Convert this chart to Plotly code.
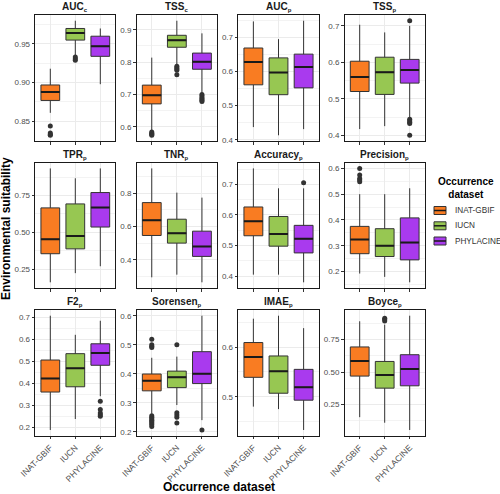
import plotly.graph_objects as go

datasets = ["INAT-GBIF", "IUCN", "PHYLACINE"]
colors = ["#F97C22", "#97C752", "#A93AEE"]

metric_names = ["AUC", "TSS", "AUC", "TSS", "TPR", "TNR", "Accuracy", "Precision",
                "F2", "Sorensen", "IMAE", "Boyce"]
metric_subs = ["c", "c", "p", "p", "p", "p", "p", "p", "p", "p", "p", "p"]

# box statistics per metric: order INAT-GBIF, IUCN, PHYLACINE
lower = [
    [0.861, 0.935, 0.898],   # AUC_c
    [0.588, 0.793, 0.705],   # TSS_c
    [0.437, 0.413, 0.431],   # AUC_p
    [0.417, 0.425, 0.447],   # TSS_p
    [0.161, 0.223, 0.270],   # TPR_p
    [0.294, 0.310, 0.264],   # TNR_p
    [0.405, 0.405, 0.380],   # Accuracy_p
    [0.192, 0.179, 0.158],   # Precision_p
    [0.187, 0.237, 0.341],   # F2_p
    [0.262, 0.292, 0.240],   # Sorensen_p
    [0.480, 0.475, 0.433],   # IMAE_p
    [0.152, 0.109, 0.053],   # Boyce_p
]
q1 = [
    [0.877, 0.955, 0.934],
    [0.671, 0.846, 0.778],
    [0.561, 0.532, 0.552],
    [0.520, 0.512, 0.543],
    [0.355, 0.388, 0.536],
    [0.546, 0.500, 0.420],
    [0.532, 0.498, 0.476],
    [0.269, 0.258, 0.245],
    [0.360, 0.384, 0.482],
    [0.341, 0.352, 0.366],
    [0.539, 0.507, 0.493],
    [0.469, 0.376, 0.394],
]
median = [
    [0.888, 0.964, 0.947],
    [0.698, 0.868, 0.801],
    [0.628, 0.597, 0.613],
    [0.560, 0.573, 0.579],
    [0.453, 0.475, 0.668],
    [0.638, 0.560, 0.480],
    [0.579, 0.538, 0.522],
    [0.324, 0.300, 0.312],
    [0.422, 0.468, 0.538],
    [0.376, 0.388, 0.400],
    [0.580, 0.551, 0.519],
    [0.585, 0.477, 0.523],
]
q3 = [
    [0.897, 0.970, 0.960],
    [0.729, 0.883, 0.828],
    [0.669, 0.640, 0.651],
    [0.603, 0.614, 0.608],
    [0.666, 0.693, 0.770],
    [0.744, 0.644, 0.572],
    [0.626, 0.595, 0.566],
    [0.375, 0.366, 0.408],
    [0.506, 0.535, 0.580],
    [0.399, 0.409, 0.476],
    [0.609, 0.582, 0.555],
    [0.694, 0.582, 0.634],
]
upper = [
    [0.918, 0.980, 0.970],
    [0.814, 0.928, 0.889],
    [0.747, 0.695, 0.749],
    [0.703, 0.682, 0.700],
    [0.934, 0.867, 0.934],
    [0.950, 0.804, 0.774],
    [0.752, 0.687, 0.687],
    [0.500, 0.500, 0.523],
    [0.708, 0.621, 0.685],
    [0.455, 0.459, 0.600],
    [0.657, 0.663, 0.638],
    [0.892, 0.866, 0.935],
]
outliers = [
    [[0.844, 0.835, 0.833, 0.832], [0.933, 0.931, 0.929], []],
    [[0.584, 0.580, 0.577, 0.574], [0.787, 0.783, 0.779, 0.775, 0.761], [0.700, 0.695, 0.690, 0.686, 0.682, 0.678]],
    [[], [], []],
    [[], [], [0.714, 0.444, 0.440, 0.436, 0.432, 0.400]],
    [[], [], []],
    [[], [], []],
    [[], [], [0.705]],
    [[0.600, 0.574, 0.561, 0.555, 0.548], [], []],
    [[], [], [0.318, 0.280, 0.264, 0.257, 0.250]],
    [[0.519, 0.500, 0.495, 0.490, 0.255, 0.250, 0.245, 0.240, 0.235, 0.230, 0.225, 0.218],
     [0.500, 0.265, 0.258, 0.250, 0.230], [0.206]],
    [[], [], []],
    [[], [0.915, 0.905, 0.895], []],
]
tick_vals = [
    [0.85, 0.90, 0.95], [0.6, 0.7, 0.8, 0.9], [0.4, 0.5, 0.6, 0.7], [0.4, 0.5, 0.6, 0.7],
    [0.25, 0.50, 0.75], [0.4, 0.6, 0.8], [0.4, 0.5, 0.6, 0.7], [0.2, 0.3, 0.4, 0.5, 0.6],
    [0.2, 0.3, 0.4, 0.5, 0.6, 0.7], [0.2, 0.3, 0.4, 0.5, 0.6], [0.5, 0.6], [0.25, 0.50, 0.75],
]
tick_text = [
    ["0.85", "0.90", "0.95"], ["0.6", "0.7", "0.8", "0.9"], ["0.4", "0.5", "0.6", "0.7"], ["0.4", "0.5", "0.6", "0.7"],
    ["0.25", "0.50", "0.75"], ["0.4", "0.6", "0.8"], ["0.4", "0.5", "0.6", "0.7"], ["0.2", "0.3", "0.4", "0.5", "0.6"],
    ["0.2", "0.3", "0.4", "0.5", "0.6", "0.7"], ["0.2", "0.3", "0.4", "0.5", "0.6"], ["0.5", "0.6"], ["0.25", "0.50", "0.75"],
]

W, H = 500, 494
FONT = "Liberation Sans"
cols_px = [(35.3, 115.3), (136.7, 217.0), (238.3, 318.7), (344.7, 424.7)]
rows_px = [(15.0, 141.0), (162.7, 288.0), (310.0, 435.7)]
BOXW = 0.75

fig = go.Figure()
layout = {}
annotations = []
shapes = []

for m in range(12):
    r, c = divmod(m, 4)
    ax = "" if m == 0 else str(m + 1)
    xref, yref = "x" + ax, "y" + ax
    for g in range(3):
        fig.add_trace(go.Box(
            x=[g], q1=[q1[m][g]], median=[median[m][g]], q3=[q3[m][g]],
            lowerfence=[lower[m][g]], upperfence=[upper[m][g]],
            width=BOXW, fillcolor=colors[g],
            line=dict(color="#333333", width=1), whiskerwidth=0,
            name=datasets[g], showlegend=False,
            hoverinfo="skip", xaxis=xref, yaxis=yref, boxpoints=False,
        ))
        # thicker median line as in ggplot
        fig.add_trace(go.Scatter(
            x=[g - BOXW / 2, g + BOXW / 2], y=[median[m][g], median[m][g]],
            mode="lines", line=dict(color="#1A1A1A", width=2),
            showlegend=False, hoverinfo="skip", xaxis=xref, yaxis=yref,
        ))
        if outliers[m][g]:
            fig.add_trace(go.Scatter(
                x=[g] * len(outliers[m][g]), y=outliers[m][g], mode="markers",
                marker=dict(color="#333333", size=5),
                showlegend=False, hoverinfo="skip", xaxis=xref, yaxis=yref,
            ))
    allv = lower[m] + upper[m] + [v for o in outliers[m] for v in o]
    lo, hi = min(allv), max(allv)
    pad = (hi - lo) * 0.05
    tv = tick_vals[m]
    step = tv[1] - tv[0]
    minor = [tv[0] - step / 2] + [v + step / 2 for v in tv]
    x0, x1 = cols_px[c]
    y0, y1 = rows_px[r]
    layout["xaxis" + ax] = dict(
        domain=[x0 / W, x1 / W], anchor=yref, range=[-0.6, 2.6], automargin=False,
        tickvals=[0, 1, 2], ticktext=datasets,
        tickangle=-45, showticklabels=(r == 2),
        tickfont=dict(size=8.5, color="#4D4D4D", family=FONT),
        ticks="outside", ticklen=2.5, tickcolor="#333333",
        showgrid=True, gridcolor="#EBEBEB", gridwidth=1, zeroline=False,
        showline=True, mirror=True, linecolor="#1A1A1A", linewidth=1.3,
    )
    layout["yaxis" + ax] = dict(
        domain=[1 - y1 / H, 1 - y0 / H], anchor=xref, range=[lo - pad, hi + pad], automargin=False,
        tickvals=tv, ticktext=tick_text[m],
        tickfont=dict(size=8, color="#4D4D4D", family=FONT),
        ticks="outside", ticklen=2.5, tickcolor="#333333",
        showgrid=True, gridcolor="#EBEBEB", gridwidth=1, zeroline=False,
        minor=dict(tickvals=minor, showgrid=True, gridcolor="#F3F3F3", gridwidth=0.6, ticks=""),
        showline=True, mirror=True, linecolor="#1A1A1A", linewidth=1.3,
    )
    annotations.append(dict(
        text="<b>" + metric_names[m] + "<sub><span style='font-size:6px'>" + metric_subs[m] + "</span></sub></b>",
        xref="paper", yref="paper",
        x=(x0 + x1) / 2 / W, y=1 - (y0 - 8) / H, xanchor="center", yanchor="middle",
        showarrow=False, font=dict(size=10, color="#1A1A1A", family=FONT),
    ))

annotations.append(dict(
    text="<b>Environmental suitability</b>", xref="paper", yref="paper",
    x=6 / W, y=1 - 229 / H, textangle=-90, xanchor="center", yanchor="middle",
    showarrow=False, font=dict(size=12, color="#000000", family=FONT),
))
annotations.append(dict(
    text="<b>Occurrence dataset</b>", xref="paper", yref="paper",
    x=219 / W, y=1 - 487 / H, xanchor="center", yanchor="middle",
    showarrow=False, font=dict(size=12, color="#000000", family=FONT),
))

# legend (ggplot-style keys) built from the dataset names and colours
LEG_X0, LEG_X1 = 434, 446
LEG_Y = [210.5, 225.8, 241.0]
annotations.append(dict(
    text="<b>Occurrence<br>dataset</b>", xref="paper", yref="paper",
    x=466 / W, y=1 - 188 / H, xanchor="center", yanchor="middle", align="center",
    showarrow=False, font=dict(size=10, color="#000000", family=FONT),
))
for g, name in enumerate(datasets):
    yc = LEG_Y[g]
    shapes.append(dict(type="rect", xref="paper", yref="paper",
                       x0=LEG_X0 / W, x1=LEG_X1 / W, y0=1 - (yc + 4) / H, y1=1 - (yc - 4) / H,
                       fillcolor=colors[g], line=dict(color="#333333", width=1)))
    shapes.append(dict(type="line", xref="paper", yref="paper",
                       x0=LEG_X0 / W, x1=LEG_X1 / W, y0=1 - yc / H, y1=1 - yc / H,
                       line=dict(color="#1A1A1A", width=1.5)))
    annotations.append(dict(
        text=name, xref="paper", yref="paper", x=453 / W, y=1 - yc / H,
        xanchor="left", yanchor="middle", showarrow=False,
        font=dict(size=8.2, color="#333333", family=FONT),
    ))

fig.update_layout(
    width=W, height=H, margin=dict(l=0, r=0, t=0, b=0),
    paper_bgcolor="white", plot_bgcolor="white",
    font=dict(family=FONT),
    showlegend=False,
    annotations=annotations,
    shapes=shapes,
    **layout,
)

fig.write_html("out.html", config={"displayModeBar": False},
               post_script="document.body.style.margin='0';document.body.style.overflow='hidden';")
